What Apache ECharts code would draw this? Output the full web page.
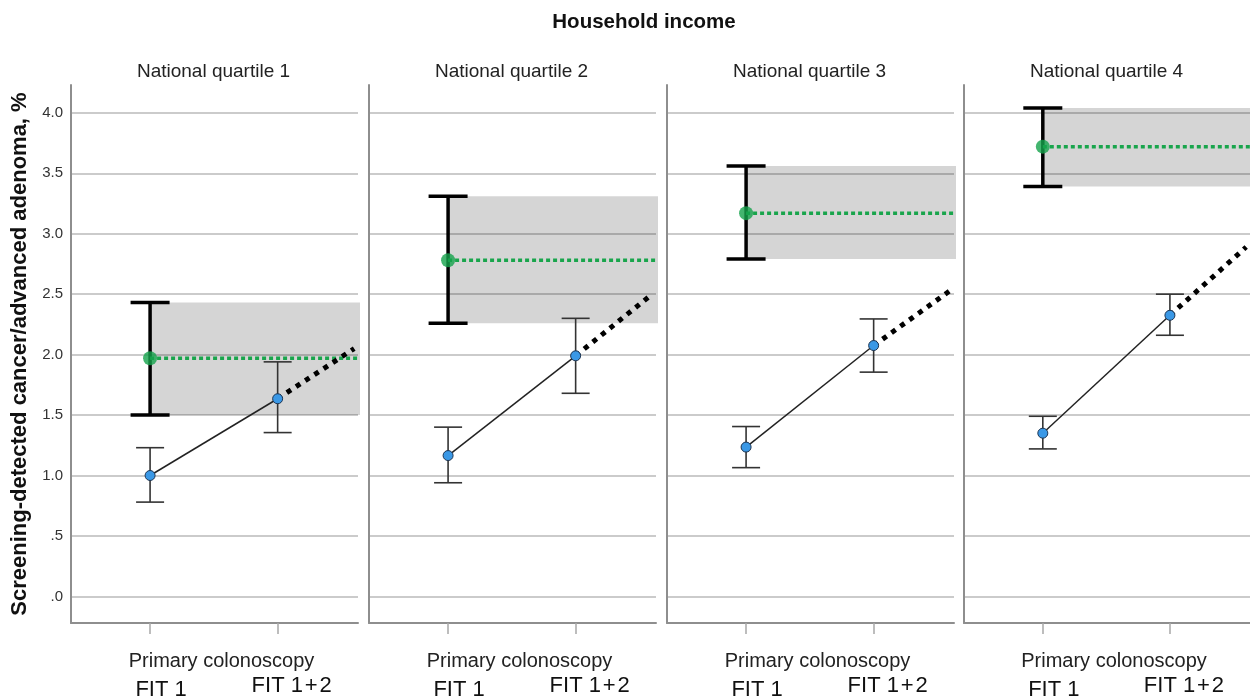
<!DOCTYPE html>
<html>
<head>
<meta charset="utf-8">
<script src="https://cdn.jsdelivr.net/npm/echarts@6/dist/echarts.min.js"></script>
<style>
  html, body { margin: 0; padding: 0; background: #fff; }
  #chart { width: 1250px; height: 700px; }
</style>
</head>
<body>
<div id="chart"></div>
<script>
// Detection rate by household income quartile
const panelTitles = ['National quartile 1', 'National quartile 2', 'National quartile 3', 'National quartile 4'];
const xTicks = [0, 1];
const xTickLabels = ['FIT 1', 'FIT 1\u200A+\u200A2'];
const yTicks = [0, 0.5, 1, 1.5, 2, 2.5, 3, 3.5, 4];
const yTickLabels = ['.0', '.5', '1.0', '1.5', '2.0', '2.5', '3.0', '3.5', '4.0'];

// FIT strategy: after round 1 and after rounds 1 + 2 (mean with 95% CI)
const fit1Mean  = [1.00, 1.165, 1.235, 1.35];
const fit1Low   = [0.78, 0.94, 1.065, 1.22];
const fit1High  = [1.23, 1.40, 1.405, 1.49];
const fit12Mean = [1.635, 1.99, 2.075, 2.325];
const fit12Low  = [1.355, 1.68, 1.855, 2.16];
const fit12High = [1.94, 2.30, 2.295, 2.50];
// Primary colonoscopy (mean with 95% CI)
const colonMean = [1.97, 2.78, 3.17, 3.72];
const colonLow  = [1.50, 2.26, 2.79, 3.39];
const colonHigh = [2.43, 3.31, 3.56, 4.04];
// Projected FIT trend at the right edge of each panel
const trendEnd  = [2.05, 2.50, 2.53, 2.89];
const TREND_X = 1.6;

const X_MIN = -0.62, X_MAX = 1.63;
const Y_MIN = -0.22, Y_MAX = 4.23;
const gridLefts = [71, 369, 667, 964];
const GRID_W = 287;

const FONT = '"Liberation Sans", Arial, sans-serif';

function errorBar(halfCap, color, width) {
  return function (params, api) {
    const x = api.value(0);
    const lo = api.coord([x, api.value(1)]);
    const hi = api.coord([x, api.value(2)]);
    const style = { stroke: color, lineWidth: width, fill: null };
    return {
      type: 'group',
      children: [
        { type: 'line', shape: { x1: lo[0], y1: lo[1], x2: hi[0], y2: hi[1] }, style },
        { type: 'line', shape: { x1: lo[0] - halfCap, y1: lo[1], x2: lo[0] + halfCap, y2: lo[1] }, style },
        { type: 'line', shape: { x1: hi[0] - halfCap, y1: hi[1], x2: hi[0] + halfCap, y2: hi[1] }, style }
      ]
    };
  };
}

// Shaded colonoscopy CI band from the colonoscopy mark to the panel's right edge
function ciBand(params, api) {
  const x = api.value(0);
  const top = api.coord([x, api.value(2)]);
  const bot = api.coord([x, api.value(1)]);
  const cs = params.coordSys;
  return {
    type: 'rect',
    shape: { x: top[0], y: top[1], width: cs.x + cs.width - top[0] + 2, height: bot[1] - top[1] },
    style: { fill: 'rgba(0,0,0,0.165)' }
  };
}

const grids = [], xAxes = [], yAxes = [], series = [], titles = [];

titles.push({
  text: 'Household income', left: 639, top: 7, textAlign: 'center',
  textStyle: { fontFamily: FONT, fontSize: 20.5, fontWeight: 'bold', color: '#111' }
});

panelTitles.forEach((name, i) => {
  grids.push({
    left: gridLefts[i], width: i === 3 ? GRID_W - 1 : GRID_W, top: 85, bottom: 77,
    containLabel: false, outerBoundsMode: 'none'
  });
  titles.push({
    text: name, left: gridLefts[i] + GRID_W / 2 - 6, top: 57, textAlign: 'center',
    textStyle: { fontFamily: FONT, fontSize: 19, fontWeight: 'normal', color: '#222' }
  });

  xAxes.push({
    type: 'value', gridIndex: i, min: X_MIN, max: X_MAX,
    name: 'Primary colonoscopy', nameLocation: 'middle', nameGap: 28, nameMoveOverlap: false,
    nameTextStyle: { fontFamily: FONT, fontSize: 20, color: '#222', padding: [0, 0, 0, 14] },
    axisLine: { show: true, onZero: false, lineStyle: { color: '#8e8e8e', width: 2 } },
    axisTick: { show: true, customValues: xTicks, length: 11, lineStyle: { color: '#a8a8a8', width: 1.5 } },
    axisLabel: {
      customValues: xTicks, margin: 52,
      formatter: v => (v === 0 ? '{a|' : '{b|') + xTickLabels[xTicks.indexOf(v)] + '}',
      rich: {
        a: { fontFamily: FONT, fontSize: 22, color: '#111', padding: [4, 0, 0, 22] },
        b: { fontFamily: FONT, fontSize: 22, color: '#111', padding: [0, 0, 0, 28] }
      }
    },
    splitLine: { show: false }
  });

  yAxes.push({
    type: 'value', gridIndex: i, min: Y_MIN, max: Y_MAX,
    name: i === 0 ? 'Screening-detected cancer/advanced adenoma, %' : '',
    nameLocation: 'middle', nameGap: 40, nameRotate: 90, nameMoveOverlap: false,
    nameTextStyle: { fontFamily: FONT, fontSize: 22, fontWeight: 'bold', color: '#111' },
    axisLine: { show: true, onZero: false, lineStyle: { color: '#8e8e8e', width: 2 } },
    axisTick: { show: false, customValues: yTicks },
    axisLabel: {
      show: i === 0, customValues: yTicks, margin: 8,
      fontFamily: FONT, fontSize: 15, color: '#333',
      formatter: v => yTickLabels[yTicks.indexOf(v)]
    },
    splitLine: { show: true, lineStyle: { color: '#cbcbcb', width: 2 } }
  });

  const ax = { xAxisIndex: i, yAxisIndex: i };

  series.push({
    type: 'custom', ...ax, z: 1, renderItem: ciBand, silent: true,
    encode: { x: 0, y: [1, 2] },
    data: [[0, colonLow[i], colonHigh[i]]]
  });
  series.push({
    type: 'custom', ...ax, z: 2, renderItem: errorBar(19.5, '#000', 3.5), silent: true,
    encode: { x: 0, y: [1, 2] },
    data: [[0, colonLow[i], colonHigh[i]]]
  });
  series.push({
    type: 'line', ...ax, z: 3, symbol: 'none', silent: true,
    lineStyle: { color: '#19a54c', width: 3.5, type: [4, 3] },
    data: [[0, colonMean[i]], [X_MAX, colonMean[i]]]
  });
  series.push({
    type: 'scatter', ...ax, z: 4, symbol: 'circle', symbolSize: 14, silent: true,
    itemStyle: { color: '#14a24b' },
    data: [[0, colonMean[i]]]
  });
  series.push({
    type: 'custom', ...ax, z: 3, renderItem: errorBar(14, '#333', 1.6), silent: true,
    encode: { x: 0, y: [1, 2] },
    data: [[0, fit1Low[i], fit1High[i]], [1, fit12Low[i], fit12High[i]]]
  });
  series.push({
    type: 'line', ...ax, z: 5, symbol: 'none', silent: true,
    lineStyle: { color: '#000', width: 5, type: [5, 6] },
    data: [[1, fit12Mean[i]], [TREND_X, trendEnd[i]]]
  });
  series.push({
    type: 'line', ...ax, z: 6, symbol: 'circle', symbolSize: 10, silent: true,
    lineStyle: { color: '#222', width: 1.5 },
    itemStyle: { color: '#3a98e6', borderColor: '#1d3553', borderWidth: 1 },
    data: [[0, fit1Mean[i]], [1, fit12Mean[i]]]
  });
});

const chart = echarts.init(document.getElementById('chart'), null, { renderer: 'canvas' });
chart.setOption({
  animation: false,
  backgroundColor: '#fff',
  title: titles,
  grid: grids,
  xAxis: xAxes,
  yAxis: yAxes,
  series: series
});
</script>
</body>
</html>
